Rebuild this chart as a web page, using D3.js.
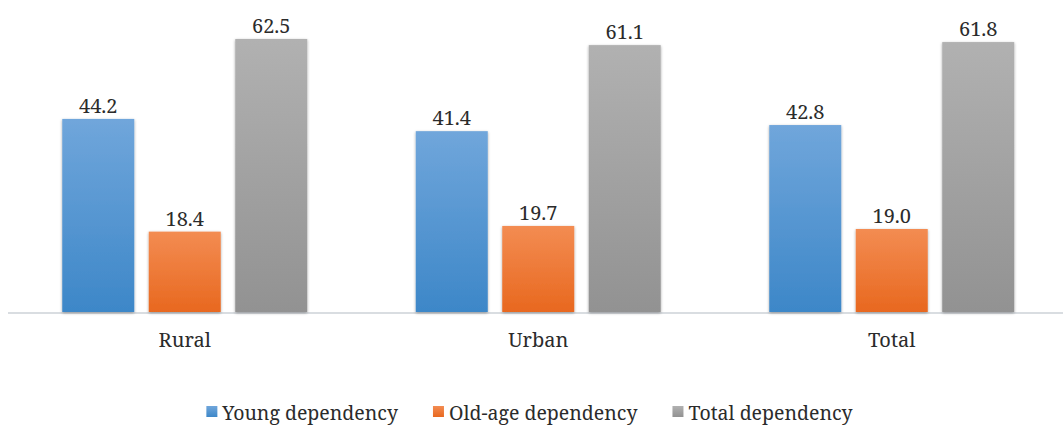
<!DOCTYPE html>
<html>
<head>
<meta charset="utf-8">
<script src="https://cdn.jsdelivr.net/npm/d3@7"></script>
<style>
  html, body { margin: 0; padding: 0; background: #fff; }
  svg { display: block; }
</style>
</head>
<body>
<svg id="chart" width="1063" height="426"></svg>
<script>
// Dependency ratios by area
const areas = ["Rural", "Urban", "Total"];
const seriesNames = ["Young dependency", "Old-age dependency", "Total dependency"];
const youngDependency = [44.2, 41.4, 42.8];
const oldAgeDependency = [18.4, 19.7, 19.0];
const totalDependency = [62.5, 61.1, 61.8];

const seriesValues = [youngDependency, oldAgeDependency, totalDependency];
const colours = [
  { top: "#70a6db", bottom: "#3d87c8" },
  { top: "#f38c52", bottom: "#e8681f" },
  { top: "#b1b1b1", bottom: "#929292" }
];

const FONT = "Noto Serif";
const FONT_SIZE = 20;
const LEGEND_FONT_SIZE = 19.5;
const TEXT_COLOUR = "#2b2b2b";

const svg = d3.select("#chart");
const width = 1063, height = 426;
const plot = { left: 8, right: 1068.5, bottom: 312 };

const x0 = d3.scaleBand()
  .domain(areas)
  .range([plot.left, plot.right])
  .paddingInner(0.307)
  .paddingOuter(0.1535);

const x1 = d3.scaleBand()
  .domain(d3.range(seriesNames.length))
  .range([0, x0.bandwidth()])
  .paddingInner(0.1676)
  .paddingOuter(0);

const y = d3.scaleLinear()
  .domain([0, 62.5])
  .range([plot.bottom, 39]);

// Gradients and soft shadow for the bars
const defs = svg.append("defs");
colours.forEach((c, i) => {
  const g = defs.append("linearGradient")
    .attr("id", "grad" + i)
    .attr("x1", 0).attr("y1", 0).attr("x2", 0).attr("y2", 1);
  g.append("stop").attr("offset", "0%").attr("stop-color", c.top);
  g.append("stop").attr("offset", "100%").attr("stop-color", c.bottom);
});
const shadow = defs.append("filter").attr("id", "shadow")
  .attr("x", "-20%").attr("y", "-5%").attr("width", "140%").attr("height", "110%");
shadow.append("feGaussianBlur").attr("in", "SourceAlpha").attr("stdDeviation", 1.6).attr("result", "b");
shadow.append("feOffset").attr("in", "b").attr("dx", 0).attr("dy", 0.5).attr("result", "o");
shadow.append("feComponentTransfer").attr("in", "o").attr("result", "s")
  .append("feFuncA").attr("type", "linear").attr("slope", 0.35);
const merge = shadow.append("feMerge");
merge.append("feMergeNode").attr("in", "s");
merge.append("feMergeNode").attr("in", "SourceGraphic");

// Baseline axis
svg.append("line")
  .attr("x1", plot.left).attr("x2", width)
  .attr("y1", plot.bottom + 1).attr("y2", plot.bottom + 1)
  .attr("stroke", "#d9dde1").attr("stroke-width", 2);

// Bars
const groups = svg.append("g").selectAll("g")
  .data(areas)
  .join("g")
  .attr("transform", d => `translate(${x0(d)},0)`);

const cells = (d, ai) => seriesValues.map((vals, si) => ({ si, v: vals[ai] }));

groups.selectAll("rect")
  .data(cells)
  .join("rect")
  .attr("x", d => x1(d.si))
  .attr("width", x1.bandwidth())
  .attr("y", d => y(d.v))
  .attr("height", d => y(0) - y(d.v))
  .attr("fill", d => `url(#grad${d.si})`)
  .attr("filter", "url(#shadow)");

// Value labels
groups.selectAll("text.val")
  .data(cells)
  .join("text")
  .attr("class", "val")
  .attr("x", d => x1(d.si) + x1.bandwidth() / 2)
  .attr("y", d => y(d.v) - 6)
  .attr("text-anchor", "middle")
  .attr("font-family", FONT)
  .attr("font-size", FONT_SIZE)
  .attr("fill", TEXT_COLOUR)
  .text(d => d.v.toFixed(1));

// Category axis labels
svg.append("g").selectAll("text")
  .data(areas)
  .join("text")
  .attr("x", d => x0(d) + x0.bandwidth() / 2)
  .attr("y", 347)
  .attr("text-anchor", "middle")
  .attr("font-family", FONT)
  .attr("font-size", FONT_SIZE)
  .attr("fill", TEXT_COLOUR)
  .text(d => d);

// Legend
const legend = svg.append("g");
const items = legend.selectAll("g")
  .data(seriesNames)
  .join("g");
items.append("rect")
  .attr("width", 11).attr("height", 11)
  .attr("y", -14)
  .attr("fill", (d, i) => `url(#grad${i})`);
items.append("text")
  .attr("x", 16)
  .attr("y", 0)
  .attr("font-family", FONT)
  .attr("font-size", LEGEND_FONT_SIZE)
  .attr("fill", TEXT_COLOUR)
  .text(d => d);

const GAP = 35;
let cursor = 0;
const offsets = [];
items.each(function () {
  offsets.push(cursor);
  cursor += 16 + this.querySelector("text").getComputedTextLength() + GAP;
});
const total = cursor - GAP;
const startX = (width - total) / 2 - 2;
items.attr("transform", (d, i) => `translate(${startX + offsets[i]},420)`);
</script>
</body>
</html>
